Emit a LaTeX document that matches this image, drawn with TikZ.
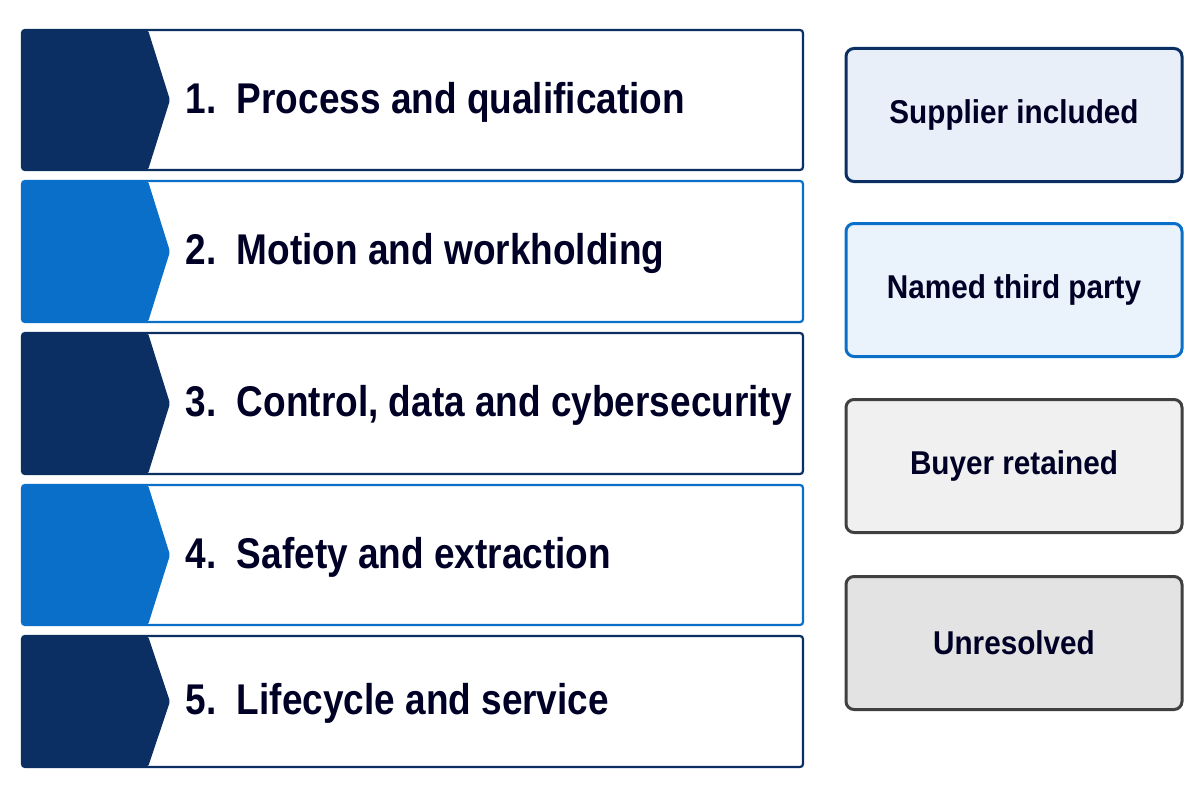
\documentclass[tikz,border=0pt]{standalone}
\usepackage{fontspec}
\usepackage{graphicx}
\setmainfont{Liberation Sans}
\begin{document}
\begin{tikzpicture}[x=1pt,y=-1pt,
  bar/.style={draw=#1,line width=2.2pt,rounded corners=3pt,fill=white},
  lbl/.style={anchor=west,font=\bfseries\fontsize{43}{47}\selectfont,text=black!85!blue},
  box/.style={draw=#1,line width=3pt,rounded corners=8pt,minimum width=336pt,minimum height=133pt,font=\bfseries\fontsize{33}{37}\selectfont,text=black!85!blue}]
\definecolor{navy}{HTML}{0B2E63}
\definecolor{blu}{HTML}{0A6FC8}
\useasboundingbox (0,0) rectangle (1200,800);
\fill[white] (0,0) rectangle (1200,800);
\foreach \t/\b/\c/\txt/\n in {30/170/navy/{1.\ \ Process and qualification}/b1,181/322/blu/{2.\ \ Motion and workholding}/b2,333/474/navy/{3.\ \ Control, data and cybersecurity}/b3,485/625/blu/{4.\ \ Safety and extraction}/b4,636/767/navy/{5.\ \ Lifecycle and service}/b5}{
  \draw[bar=\c] (22,\t) rectangle (803,\b);
  \fill[\c,rounded corners=2pt] (22,\t) -- (148,\t) -- (170,{(\t+\b)/2}) -- (148,\b) -- (22,\b) -- cycle;
  \node[lbl] (\n) at (182,{(\t+\b)/2+2}) {\scalebox{0.86}[1]{\txt}};
}
\node[box=navy,fill={rgb,255:red,232;green,239;blue,248}] (s1) at (1014,115) {\scalebox{0.9}[1]{Supplier included}};
\node[box=blu,fill={rgb,255:red,234;green,242;blue,251}] (s2) at (1014,290) {\scalebox{0.9}[1]{Named third party}};
\node[box=black!75,fill=black!6] (s3) at (1014,466) {\scalebox{0.9}[1]{Buyer retained}};
\node[box=black!75,fill=black!11] (s4) at (1014,643) {\scalebox{0.9}[1]{Unresolved}};
\end{tikzpicture}
\end{document}
